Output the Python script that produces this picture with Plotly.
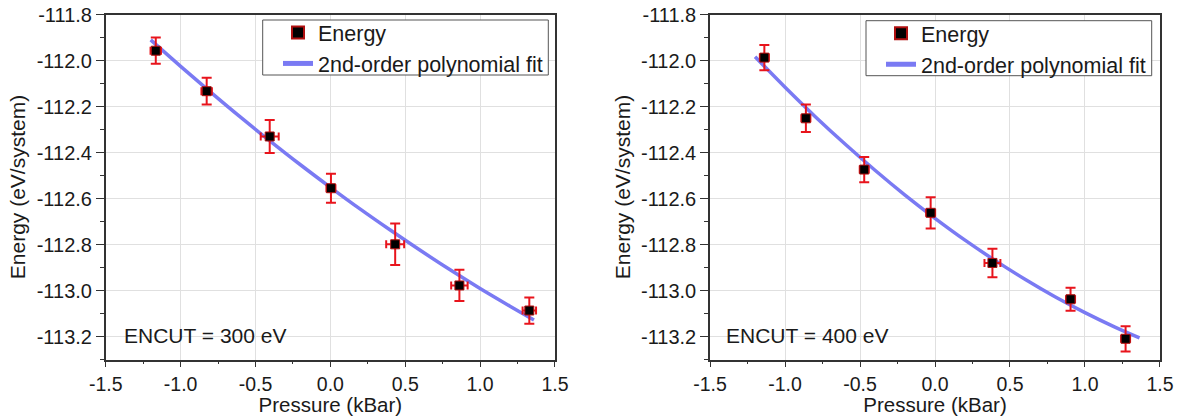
import plotly.graph_objects as go

# ---- data ----
p300 = [-1.166, -0.826, -0.405, 0.004, 0.433, 0.862, 1.329]
e300 = [-111.957, -112.133, -112.330, -112.555, -112.799, -112.978, -113.087]
ey300 = [0.057, 0.058, 0.072, 0.063, 0.090, 0.068, 0.057]
ex300 = [0.035, 0.035, 0.06, 0.03, 0.06, 0.055, 0.045]
fitx300 = [-1.2, -1.0, -0.8, -0.6, -0.4, -0.2, 0.0, 0.2, 0.4, 0.6, 0.8, 1.0, 1.2, 1.36]
fity300 = [-111.910, -112.025, -112.137, -112.246, -112.351, -112.453, -112.551,
           -112.646, -112.737, -112.825, -112.910, -112.991, -113.068, -113.128]

p400 = [-1.138, -0.861, -0.472, -0.029, 0.383, 0.904, 1.271]
e400 = [-111.987, -112.251, -112.474, -112.662, -112.880, -113.038, -113.210]
ey400 = [0.055, 0.060, 0.055, 0.068, 0.062, 0.050, 0.055]
ex400 = [0.03, 0.03, 0.03, 0.03, 0.053, 0.03, 0.03]
fitx400 = [-1.2, -1.0, -0.8, -0.6, -0.4, -0.2, 0.0, 0.2, 0.4, 0.6, 0.8, 1.0, 1.2, 1.364]
fity400 = [-111.983, -112.116, -112.243, -112.363, -112.477, -112.585, -112.686,
           -112.781, -112.869, -112.951, -113.027, -113.096, -113.159, -113.206]

xticks = [-1.5, -1.0, -0.5, 0.0, 0.5, 1.0, 1.5]
xticklabels = ["-1.5", "-1.0", "-0.5", "0.0", "0.5", "1.0", "1.5"]
yticks = [-111.8, -112.0, -112.2, -112.4, -112.6, -112.8, -113.0, -113.2]
yticklabels = ["-111.8", "-112.0", "-112.2", "-112.4", "-112.6", "-112.8", "-113.0", "-113.2"]
labels = ["ENCUT = 300 eV", "ENCUT = 400 eV"]

FONT = "Liberation Sans, Arial, sans-serif"
RED = "#e8141c"
BLUE = "rgba(115,115,242,0.95)"
AX = "#333333"
TXT = "#1a1a1a"

fig = go.Figure()

panels = [
    (p300, e300, ey300, ex300, fitx300, fity300, "x", "y", "legend"),
    (p400, e400, ey400, ex400, fitx400, fity400, "x2", "y2", "legend2"),
]
for px, py, ey, ex, fx, fy, xa, ya, lg in panels:
    fig.add_trace(go.Scatter(
        x=fx, y=fy, mode="lines", line=dict(color=BLUE, width=3.5, shape="spline"),
        name="2nd-order polynomial fit", xaxis=xa, yaxis=ya, legend=lg, legendrank=2))
    fig.add_trace(go.Scatter(
        x=px, y=py, mode="markers",
        marker=dict(symbol="square", size=9, color="black", line=dict(color="#b01010", width=1)),
        error_y=dict(type="data", array=ey, color=RED, thickness=2, width=5),
        error_x=dict(type="data", array=ex, color=RED, thickness=2, width=4),
        name="Energy", xaxis=xa, yaxis=ya, legend=lg, legendrank=1))

W = 1181.0
H = 416.0

def fx_(page_x):
    return page_x / W

def fy_(page_y):
    return (H - page_y) / H

ydom = [fy_(359.5), fy_(14.5)]
xdom1 = [fx_(105.7), fx_(555.0)]
xdom2 = [fx_(710.0), fx_(1160.0)]

minor_x = [-1.25, -0.75, -0.25, 0.25, 0.75, 1.25]
YR = [-113.3, -111.7995]
XR = [-1.5005, 1.5005]

def xaxis_cfg(dom, anchor):
    return dict(domain=dom, anchor=anchor, range=XR, tickvals=xticks, ticktext=xticklabels,
                ticks="outside", ticklen=6, tickwidth=1.3, tickcolor=AX, automargin=False,
                minor=dict(tickvals=minor_x, ticklen=3, tickcolor=AX, ticks="outside"),
                showline=True, linecolor=AX, linewidth=1.5, mirror=True,
                showgrid=True, gridcolor="#e0e0e0", gridwidth=1, zeroline=False,
                tickfont=dict(family=FONT, size=19.5, color=TXT),
                title=dict(text="Pressure (kBar)", font=dict(family=FONT, size=20.5, color=TXT), standoff=2))

def yaxis_cfg(anchor):
    return dict(domain=ydom, anchor=anchor, range=YR, tickvals=yticks, ticktext=yticklabels,
                ticks="outside", ticklen=8, tickwidth=1.3, tickcolor=AX, automargin=False,
                minor=dict(dtick=0.1, tick0=-111.8, ticklen=4, tickcolor=AX, ticks="outside"),
                showline=True, linecolor=AX, linewidth=1.5, mirror=True,
                showgrid=True, gridcolor="#e0e0e0", gridwidth=1, zeroline=False,
                tickfont=dict(family=FONT, size=20, color=TXT),
                title=dict(text="Energy (eV/system)", font=dict(family=FONT, size=21, color=TXT), standoff=5))

def right_cfg(overlay, anchor):
    return dict(overlaying=overlay, anchor=anchor, side="right", range=YR,
                tickvals=yticks, showticklabels=False, ticks="inside", ticklen=7, tickwidth=1.3,
                tickcolor=AX, minor=dict(dtick=0.1, tick0=-111.8, ticklen=4, tickcolor=AX, ticks="inside"),
                showgrid=False, zeroline=False, showline=False, automargin=False)

def top_cfg(overlay, anchor):
    return dict(overlaying=overlay, anchor=anchor, side="top", range=XR,
                tickvals=xticks, showticklabels=False, ticks="inside", ticklen=6, tickwidth=1.3,
                tickcolor=AX, minor=dict(tickvals=minor_x, ticklen=3, tickcolor=AX, ticks="inside"),
                showgrid=False, zeroline=False, showline=False, automargin=False)

legend_common = dict(borderwidth=0, bgcolor="rgba(0,0,0,0)",
                     font=dict(family=FONT, size=21.5, color=TXT),
                     xanchor="left", yanchor="top", tracegroupgap=0, itemsizing="constant")

# legend frames (white boxes with grey border behind the legend entries)
legend_boxes = [(262.7, 20.0, 548.3, 75.0), (866.0, 20.7, 1151.7, 75.7)]
shapes = [dict(type="rect", xref="paper", yref="paper",
               x0=fx_(a), x1=fx_(c), y0=fy_(d), y1=fy_(b),
               line=dict(color="#555", width=1), fillcolor="white", layer="above")
          for a, b, c, d in legend_boxes]

fig.update_layout(
    width=int(W), height=int(H),
    margin=dict(l=0, r=0, t=0, b=0, autoexpand=False),
    paper_bgcolor="white", plot_bgcolor="white",
    showlegend=True,
    xaxis=xaxis_cfg(xdom1, "y"),
    yaxis=yaxis_cfg("x"),
    xaxis2=xaxis_cfg(xdom2, "y2"),
    yaxis2=yaxis_cfg("x2"),
    yaxis3=right_cfg("y", "x"),
    yaxis4=right_cfg("y2", "x2"),
    xaxis3=top_cfg("x", "y"),
    xaxis4=top_cfg("x2", "y2"),
    legend=dict(x=fx_(278.0), y=fy_(12.0), **legend_common),
    legend2=dict(x=fx_(881.0), y=fy_(12.7), **legend_common),
    shapes=shapes,
    annotations=[
        dict(text=labels[0], x=fx_(122.0), y=fy_(335), xref="paper", yref="paper",
             xanchor="left", yanchor="middle", showarrow=False,
             font=dict(family=FONT, size=21, color=TXT)),
        dict(text=labels[1], x=fx_(723.5), y=fy_(335), xref="paper", yref="paper",
             xanchor="left", yanchor="middle", showarrow=False,
             font=dict(family=FONT, size=21, color=TXT)),
    ],
)

fig.write_html("out.html", config={"displayModeBar": False},
               post_script="document.body.style.margin='0';document.body.style.overflow='hidden';")
